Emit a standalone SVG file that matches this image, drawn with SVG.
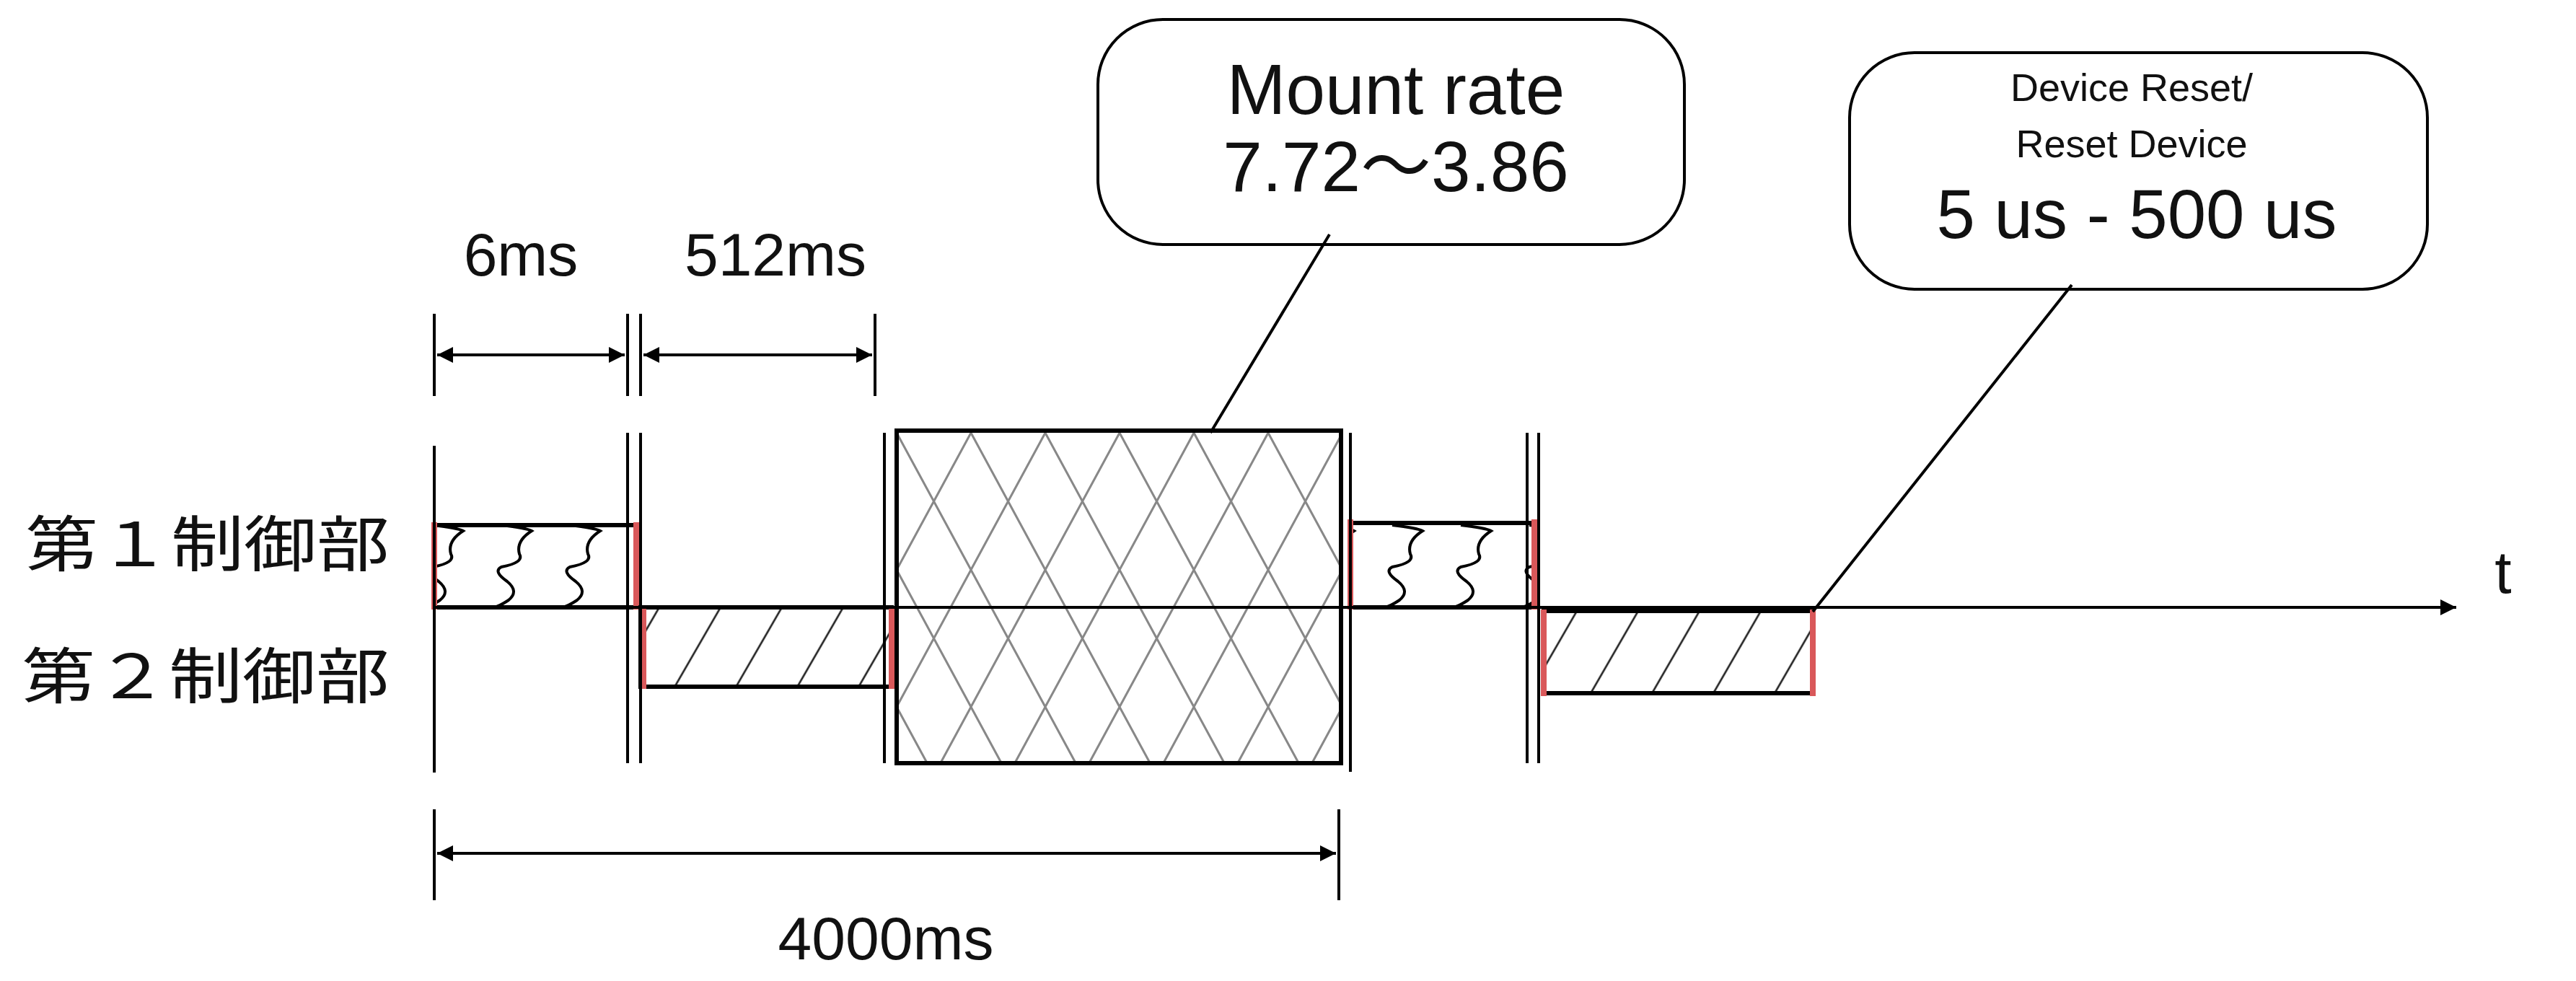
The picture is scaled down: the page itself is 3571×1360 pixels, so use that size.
<svg xmlns="http://www.w3.org/2000/svg" width="3571" height="1360" viewBox="0 0 3571 1360">
<style>
.ln{stroke:#000;stroke-width:4;fill:none}
.bx{stroke:#000;stroke-width:6}
.red{stroke:#d9585a;stroke-width:8;fill:none}
.tx{font-family:"Liberation Sans","Noto Sans CJK JP",sans-serif;fill:#111;text-anchor:middle}
.jp{font-family:"Noto Sans CJK JP",sans-serif;fill:#111}
</style>
<defs>
<marker id="ad" viewBox="0 0 10 10" refX="10" refY="5" markerWidth="28" markerHeight="22" orient="auto-start-reverse" markerUnits="userSpaceOnUse"><path d="M0,0 L10,5 L0,10 z" fill="#000"/></marker>
<pattern id="hatch" width="85" height="120" patternUnits="userSpaceOnUse" patternTransform="skewX(-30)"><line x1="40" y1="0" x2="40" y2="120" stroke="#222" stroke-width="3"/></pattern>
<pattern id="cross" width="103" height="190" patternUnits="userSpaceOnUse" x="1243" y="600"><path d="M0,0 L103,190 M103,0 L0,190" stroke="#888" stroke-width="3" fill="none"/></pattern>
<pattern id="wave" width="95" height="114" patternUnits="userSpaceOnUse" x="580" y="728"><path d="M20,0 Q55,4 62,8 Q40,22 45,40 Q52,52 20,58 Q8,64 28,78 Q45,92 30,104 Q18,112 10,114" stroke="#000" stroke-width="4" fill="none"/></pattern>
</defs>
<g id="labels">
<text class="jp" x="35" y="785" font-size="84" textLength="505" lengthAdjust="spacingAndGlyphs">第１制御部</text>
<text class="jp" x="30" y="968" font-size="84" textLength="510" lengthAdjust="spacingAndGlyphs">第２制御部</text>
<text class="tx" x="722" y="382" font-size="84">6ms</text>
<text class="tx" x="1075" y="382" font-size="84">512ms</text>
<text class="tx" x="1228" y="1330" font-size="84">4000ms</text>
<text class="tx" x="3470" y="822" font-size="84">t</text>
</g>
<g id="box1"><rect x="602" y="728" width="280" height="114" fill="url(#wave)" class="bx"/><line class="red" x1="602" y1="724" x2="602" y2="845"/><line class="red" x1="882" y1="724" x2="882" y2="845"/></g>
<g id="box2"><rect x="888" y="842" width="348" height="110" fill="url(#hatch)" class="bx"/><line class="red" x1="892" y1="842" x2="892" y2="955"/><line class="red" x1="1236" y1="842" x2="1236" y2="955"/></g>
<g id="box3"><rect x="1243" y="597" width="616" height="461" fill="url(#cross)" class="bx"/></g>
<g id="box4"><rect x="1872" y="725" width="255" height="117" fill="url(#wave)" class="bx"/><line class="red" x1="1872" y1="720" x2="1872" y2="845"/><line class="red" x1="2127" y1="720" x2="2127" y2="845"/></g>
<g id="box5"><rect x="2140" y="847" width="373" height="114" fill="url(#hatch)" class="bx"/><line class="red" x1="2140" y1="845" x2="2140" y2="965"/><line class="red" x1="2513" y1="845" x2="2513" y2="965"/></g>
<g id="callout1"><rect x="1522" y="27" width="813" height="312" rx="90" fill="#fff" stroke="#000" stroke-width="4"/><text class="tx" x="1935" y="158" font-size="98">Mount rate</text><text class="tx" x="1935" y="265" font-size="98">7.72〜3.86</text></g>
<g id="callout2"><rect x="2564" y="73" width="801" height="328" rx="90" fill="#fff" stroke="#000" stroke-width="4"/><text class="tx" x="2955" y="140" font-size="54">Device Reset/</text><text class="tx" x="2955" y="218" font-size="54">Reset Device</text><text class="tx" x="2962" y="330" font-size="96">5 us - 500 us</text></g>
<g id="connectors">
<line class="ln" x1="602" y1="842" x2="3405" y2="842" marker-end="url(#ad)" stroke-width="6"/>
<line class="ln" x1="882" y1="842" x2="1236" y2="842" stroke-width="12"/>
<line class="ln" x1="1872" y1="842" x2="2127" y2="842" stroke-width="12"/>
<line class="ln" x1="602" y1="618" x2="602" y2="1071"/>
<line class="ln" x1="870" y1="600" x2="870" y2="1058"/>
<line class="ln" x1="888" y1="600" x2="888" y2="1058"/>
<line class="ln" x1="1226" y1="600" x2="1226" y2="1058"/>
<line class="ln" x1="1872" y1="600" x2="1872" y2="1070"/>
<line class="ln" x1="2117" y1="600" x2="2117" y2="1058"/>
<line class="ln" x1="2133" y1="600" x2="2133" y2="1058"/>
<line class="ln" x1="602" y1="435" x2="602" y2="549"/>
<line class="ln" x1="870" y1="435" x2="870" y2="549"/>
<line class="ln" x1="888" y1="435" x2="888" y2="549"/>
<line class="ln" x1="1213" y1="435" x2="1213" y2="549"/>
<line class="ln" x1="606" y1="492" x2="866" y2="492" marker-start="url(#ad)" marker-end="url(#ad)"/>
<line class="ln" x1="892" y1="492" x2="1209" y2="492" marker-start="url(#ad)" marker-end="url(#ad)"/>
<line class="ln" x1="602" y1="1122" x2="602" y2="1248"/>
<line class="ln" x1="1856" y1="1122" x2="1856" y2="1248"/>
<line class="ln" x1="606" y1="1183" x2="1852" y2="1183" marker-start="url(#ad)" marker-end="url(#ad)"/>
<line class="ln" x1="1843" y1="325" x2="1678" y2="600"/>
<line class="ln" x1="2872" y1="395" x2="2513" y2="848"/>
</g>
</svg>
